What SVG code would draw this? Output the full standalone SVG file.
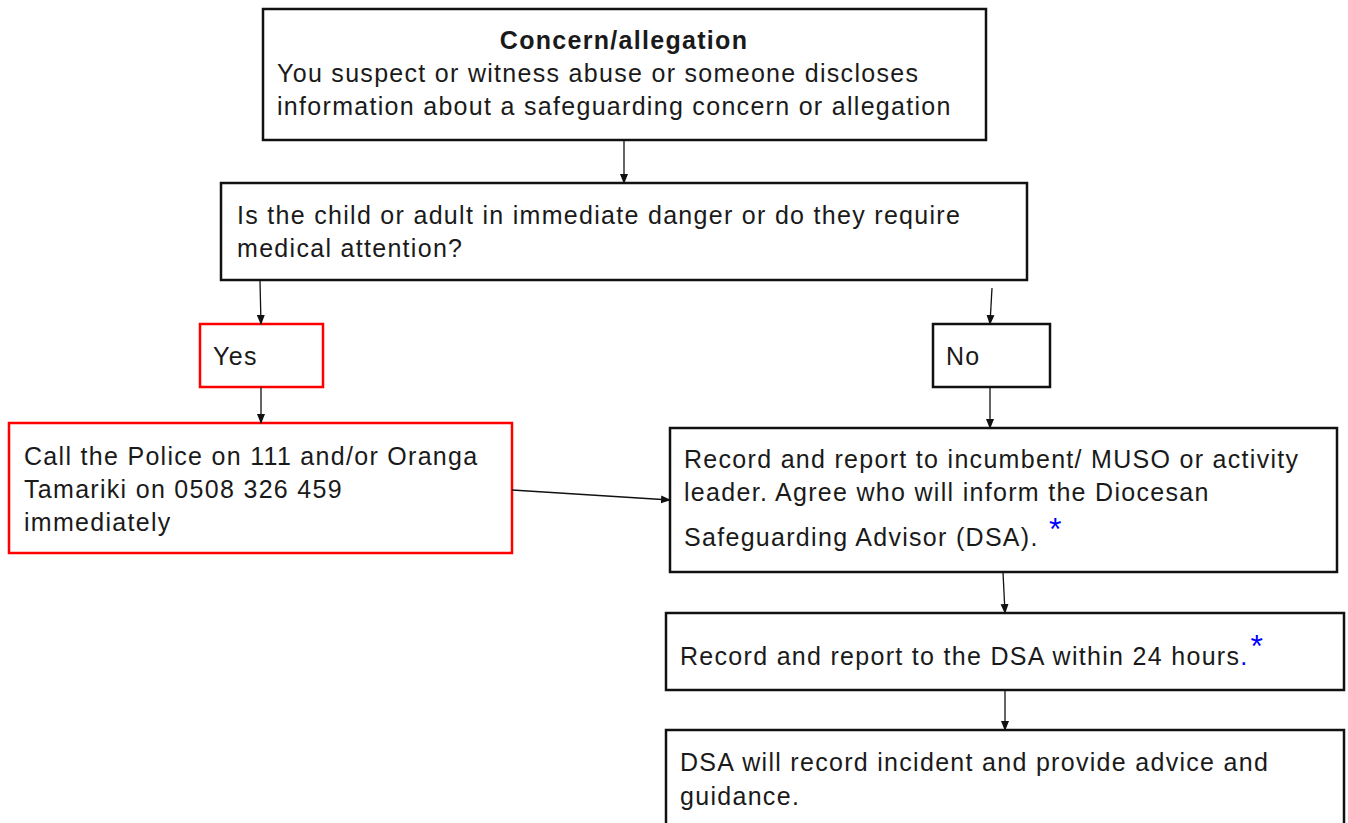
<svg xmlns="http://www.w3.org/2000/svg" width="1348" height="823" viewBox="0 0 1348 823">
<style>
.box{fill:#fff;stroke:#111;stroke-width:2.5}
.red{fill:#fff;stroke:#f00;stroke-width:2.5}
text{font-family:"Liberation Sans",Arial,sans-serif;font-size:25px;letter-spacing:1.3px;fill:#1a1a1a}
.b{font-weight:bold}
.ast{fill:#0000ff}
.c{fill:none;stroke:#111;stroke-width:1.3}
</style>
<defs>
<marker id="ah" markerWidth="10" markerHeight="10" refX="9" refY="5" orient="auto" markerUnits="userSpaceOnUse">
<path d="M0,1 L10,5 L0,9 z" fill="#111"/>
</marker>
</defs>
<rect width="1348" height="823" fill="#fff"/>
<g id="n1">
<rect class="box" x="263" y="9" width="723" height="131"/>
<text class="b" x="624" y="49" text-anchor="middle">Concern/allegation</text>
<text x="277" y="82">You suspect or witness abuse or someone discloses</text>
<text x="277" y="115">information about a safeguarding concern or allegation</text>
</g>
<g id="n2">
<rect class="box" x="221" y="183" width="806" height="97"/>
<text x="237" y="224">Is the child or adult in immediate danger or do they require</text>
<text x="237" y="257">medical attention?</text>
</g>
<g id="n3">
<rect class="red" x="200" y="324" width="123" height="63"/>
<text x="213" y="365">Yes</text>
</g>
<g id="n4">
<rect class="box" x="933" y="324" width="117" height="63"/>
<text x="946" y="365">No</text>
</g>
<g id="n5">
<rect class="red" x="9" y="423" width="503" height="130"/>
<text x="24" y="465">Call the Police on 111 and/or Oranga</text>
<text x="24" y="498">Tamariki on 0508 326 459</text>
<text x="24" y="531">immediately</text>
</g>
<g id="n6">
<rect class="box" x="670" y="428" width="667" height="144"/>
<text x="684" y="468">Record and report to incumbent/ MUSO or activity</text>
<text x="684" y="501">leader. Agree who will inform the Diocesan</text>
<text x="684" y="546">Safeguarding Advisor (DSA). <tspan class="ast" dx="2" dy="-6" font-size="32">*</tspan></text>
</g>
<g id="n7">
<rect class="box" x="666" y="613" width="678" height="77"/>
<text x="680" y="665">Record and report to the DSA within 24 hours<tspan class="ast">.</tspan><tspan class="ast" dx="2" dy="-8" font-size="32">*</tspan></text>
</g>
<g id="n8">
<rect class="box" x="666" y="730" width="678" height="110"/>
<text x="680" y="771">DSA will record incident and provide advice and</text>
<text x="680" y="805">guidance.</text>
</g>
<g id="connectors">
<line class="c" x1="624" y1="140" x2="624" y2="183" marker-end="url(#ah)"/>
<line class="c" x1="260" y1="281" x2="261" y2="324" marker-end="url(#ah)"/>
<line class="c" x1="992" y1="288" x2="990" y2="324" marker-end="url(#ah)"/>
<line class="c" x1="261" y1="387" x2="261" y2="423" marker-end="url(#ah)"/>
<line class="c" x1="990" y1="387" x2="990" y2="428" marker-end="url(#ah)"/>
<line class="c" x1="512" y1="490" x2="670" y2="500" marker-end="url(#ah)"/>
<line class="c" x1="1003" y1="572" x2="1005" y2="613" marker-end="url(#ah)"/>
<line class="c" x1="1005" y1="690" x2="1005" y2="730" marker-end="url(#ah)"/>
</g>
</svg>
